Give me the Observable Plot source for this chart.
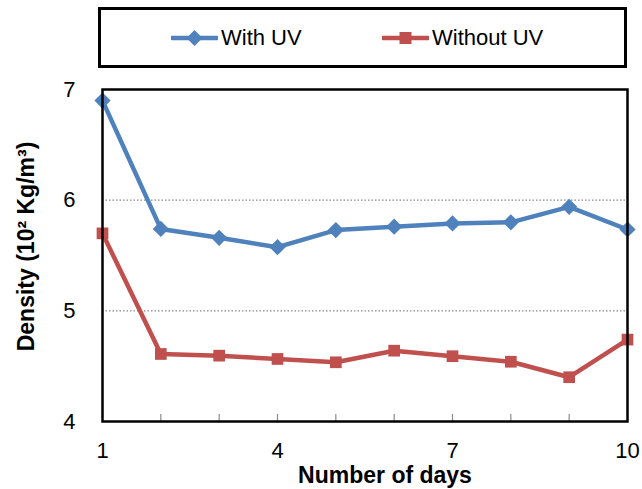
<!DOCTYPE html>
<html><head><meta charset="utf-8">
<script src="https://cdn.jsdelivr.net/npm/d3@7"></script>
<script src="https://cdn.jsdelivr.net/npm/@observablehq/plot@0.6"></script>
<style>
body{margin:0;background:#fff;font-family:"Liberation Sans",Arial,sans-serif;}
#wrap{position:relative;width:642px;height:489px;}
#chart{position:absolute;left:0;top:0;}
#legend{position:absolute;left:98px;top:7px;width:523px;height:55px;border:3px solid #000;background:#fff;}
.item{position:absolute;top:0;height:55px;display:flex;align-items:center;font-size:22px;color:#000;white-space:nowrap;}
.item span{margin-left:3px;}
</style></head><body>
<div id="wrap"><div id="chart"></div><div id="legend"></div></div>
<script>
const days = [1, 2, 3, 4, 5, 6, 7, 8, 9, 10];
const withUV = [6.90, 5.74, 5.66, 5.575, 5.73, 5.76, 5.79, 5.80, 5.94, 5.735];
const withoutUV = [5.70, 4.61, 4.595, 4.565, 4.535, 4.64, 4.59, 4.54, 4.40, 4.74];
const seriesNames = ["With UV", "Without UV"];
const seriesColors = ["#4F81BD", "#C0504D"];
const xTickLabels = [1, 4, 7, 10];
const yTickLabels = [4, 5, 6, 7];
const gridValues = [5, 6];
const xTitle = "Number of days";
const yTitle = "Density (10² Kg/m³)";

const rowsA = days.map((d, i) => ({day: d, value: withUV[i], series: seriesNames[0]}));
const rowsB = days.map((d, i) => ({day: d, value: withoutUV[i], series: seriesNames[1]}));

const chart = Plot.plot({
  width: 642, height: 489,
  marginLeft: 102, marginRight: 15, marginTop: 89, marginBottom: 68,
  x: {domain: [1, 10]},
  y: {domain: [4, 7]},
  color: {domain: seriesNames, range: seriesColors},
  style: {fontFamily: "'Liberation Sans', Arial, sans-serif", fontSize: "22px", color: "#000", background: "transparent"},
  marks: [
    Plot.ruleY(gridValues, {stroke: "#8a8a8a", strokeDasharray: "1.5,2", strokeWidth: 1.2}),
    Plot.tickX(days.slice(1, -1), {x: d => d, stroke: "#8a8a8a", strokeWidth: 1.2, insetTop: 325}),
    Plot.line(rowsA, {x: "day", y: "value", stroke: "series", strokeWidth: 4.5}),
    Plot.line(rowsB, {x: "day", y: "value", stroke: "series", strokeWidth: 4.5}),
    Plot.dot(rowsB, {x: "day", y: "value", fill: "series", symbol: "square", r: 6.6}),
    Plot.dot(rowsA, {x: "day", y: "value", fill: "series", symbol: "diamond2", r: 7.3}),
    Plot.frame({stroke: "#000", strokeWidth: 2.5}),
    Plot.axisX({ticks: xTickLabels, tickSize: 0, tickPadding: 21, label: null, fontSize: 22, tickFormat: d3.format("d")}),
    Plot.axisY({ticks: yTickLabels, tickSize: 0, tickPadding: 27, label: null, fontSize: 22, tickFormat: d3.format("d")}),
    Plot.text([xTitle], {text: d => d, frameAnchor: "bottom", lineAnchor: "middle", textAnchor: "middle", dx: 20, dy: 54, fontWeight: "bold", fontSize: 23}),
    Plot.text([yTitle], {text: d => d, frameAnchor: "left", lineAnchor: "middle", textAnchor: "middle", rotate: -90, dx: -76, dy: -9, fontWeight: "bold", fontSize: 23})
  ]
});
document.getElementById("chart").appendChild(chart);

// Legend
const legend = d3.select("#legend");
const lefts = [70, 281];
seriesNames.forEach((name, i) => {
  const item = legend.append("div").attr("class", "item").style("left", lefts[i] + "px");
  const svg = item.append("svg").attr("width", 47).attr("height", 18);
  svg.append("line").attr("x1", 1).attr("x2", 46).attr("y1", 9).attr("y2", 9)
    .attr("stroke", seriesColors[i]).attr("stroke-width", 4.5).attr("stroke-linecap", "round");
  if (i === 0) {
    svg.append("path").attr("d", "M23.5,1 L31.5,9 L23.5,17 L15.5,9 Z").attr("fill", seriesColors[i]);
  } else {
    svg.append("rect").attr("x", 17.5).attr("y", 3).attr("width", 12).attr("height", 12).attr("fill", seriesColors[i]);
  }
  item.append("span").text(name);
});
</script>
</body></html>
